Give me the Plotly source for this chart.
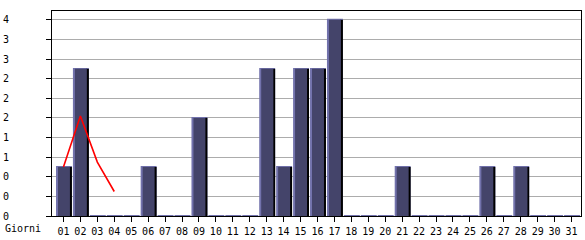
import plotly.graph_objects as go

# ---- data ----
days = ["01", "02", "03", "04", "05", "06", "07", "08", "09", "10", "11", "12", "13", "14", "15", "16",
        "17", "18", "19", "20", "21", "22", "23", "24", "25", "26", "27", "28", "29", "30", "31"]
visits = [1, 3, 0, 0, 0, 1, 0, 0, 2, 0, 0, 0, 3, 1, 3, 3,
          4, 0, 0, 0, 1, 0, 0, 0, 0, 1, 0, 1, 0, 0, 0]
trend_days = ["01", "02", "03", "04"]
trend_values = [1.0, 2.04, 1.1, 0.5]
y_tickvals = [0, 0.4, 0.8, 1.2, 1.6, 2.0, 2.4, 2.8, 3.2, 3.6, 4.0]
y_ticktext = ["0", "0", "0", "1", "1", "2", "2", "2", "3", "3", "4"]
x_title = "Giorni"

# ---- style ----
FILL = "#44446a"
EDGE = "#7272ac"
SHADOW = "#000000"
GRID = "#acacac"
FONT = dict(family="DejaVu Sans Mono", size=10, color="#000000")
PITCH = 17.0  # px per category
EDGE_PX = 1 / 50.0  # 1px in data units (50 px per unit)

fig = go.Figure()
# lavender highlight layer (left + top edge)
fig.add_trace(go.Bar(x=days, y=[v + EDGE_PX for v in visits], width=16 / PITCH, offset=-7.5 / PITCH,
                     marker=dict(color=EDGE, line=dict(width=0)), hoverinfo="skip"))
# black shadow on the right
fig.add_trace(go.Bar(x=days, y=visits, width=2 / PITCH, offset=6.5 / PITCH,
                     marker=dict(color=SHADOW, line=dict(width=0)), hoverinfo="skip"))
# main fill
fig.add_trace(go.Bar(x=days, y=visits, width=12 / PITCH, offset=-5.5 / PITCH,
                     marker=dict(color=FILL, line=dict(width=0))))
# red trend line
fig.add_trace(go.Scatter(x=trend_days, y=trend_values, mode="lines",
                         line=dict(color="#ff0000", width=1.6)))

W, H = 585, 240
L, R, T, B = 51, 3, 11, 20
pw = W - L - R
ph = H - T - B

fig.update_layout(
    width=W, height=H,
    margin=dict(l=L, r=R, t=T, b=B, pad=0),
    barmode="overlay",
    showlegend=False,
    plot_bgcolor="#ffffff",
    paper_bgcolor="#ffffff",
    font=FONT,
    xaxis=dict(
        type="category",
        categoryorder="array", categoryarray=days,
        range=[-11.5 / PITCH, 30 + 9.5 / PITCH],
        showgrid=False, zeroline=False,
        showline=True, linecolor="#000000", linewidth=1, mirror=True,
        ticks="outside", ticklen=5, tickcolor="#000000", tickwidth=1,
        ticklabelstandoff=1,
        tickfont=FONT,
    ),
    yaxis=dict(
        range=[0, ph / 50.0],
        tickmode="array", tickvals=y_tickvals, ticktext=y_ticktext,
        showgrid=True, gridcolor=GRID, gridwidth=1,
        zeroline=False,
        showline=True, linecolor="#000000", linewidth=1, mirror=True,
        ticks="outside", ticklen=5, tickcolor="#000000", tickwidth=1,
        ticklabelstandoff=35,
        tickfont=FONT,
    ),
    annotations=[dict(
        text=x_title, xref="paper", yref="paper",
        x=(2 - L) / pw, y=(220 - 233) / ph,
        xanchor="left", yanchor="middle", showarrow=False, font=FONT,
    )],
)

fig.write_html("out.html")
